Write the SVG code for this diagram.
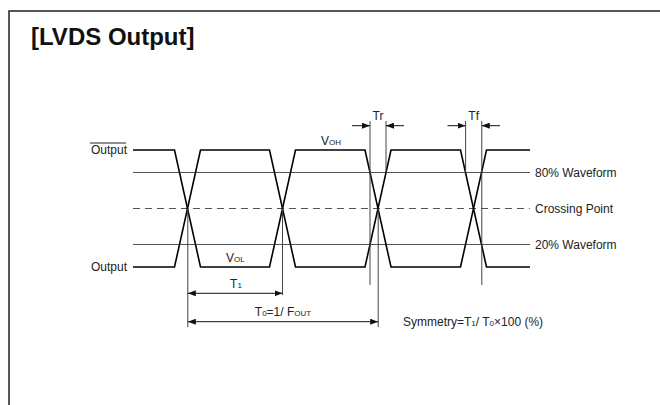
<svg xmlns="http://www.w3.org/2000/svg" width="660" height="405" viewBox="0 0 660 405">
<style>
text{font-family:"Liberation Sans",Arial,sans-serif;fill:#222;font-size:12px}
.t{font-size:24px;font-weight:bold;fill:#111}
.s{font-size:8px}
.wave{fill:none;stroke:#000;stroke-width:1.6;stroke-linejoin:miter}
.lvl{stroke:#555;stroke-width:1.2}
.dash{stroke:#555;stroke-width:1.2;stroke-dasharray:7 5}
.dim{stroke:#111;stroke-width:1;fill:none}
.ext{stroke:#444;stroke-width:1;fill:none}
</style>
<defs>
<marker id="ah" viewBox="0 0 8 6" refX="8" refY="3" markerWidth="8" markerHeight="6" markerUnits="userSpaceOnUse" orient="auto-start-reverse">
<path d="M0,0 L8,3 L0,6 Z" fill="#111"/>
</marker>
</defs>
<rect x="9" y="11" width="700" height="450" fill="none" stroke="#222" stroke-width="1.5"/>
<text class="t" x="31" y="45">[LVDS Output]</text>
<g id="levels">
<line class="lvl" x1="133" y1="172.5" x2="530" y2="172.5"/>
<line class="dash" x1="133" y1="208.5" x2="530" y2="208.5"/>
<line class="lvl" x1="133" y1="244.5" x2="530" y2="244.5"/>
</g>
<g id="output-bar">
<path class="wave" d="M133,150 L174.5,150 L200.5,267 L269.5,267 L295.5,150 L365,150 L391,267 L460.5,267 L486.5,150 L530,150"/>
<line x1="90" y1="143" x2="126" y2="143" stroke="#222" stroke-width="1"/>
<text x="127" y="154" text-anchor="end">Output</text>
</g>
<g id="output">
<path class="wave" d="M133,267 L174.5,267 L200.5,150 L269.5,150 L295.5,267 L365,267 L391,150 L460.5,150 L486.5,267 L530,267"/>
<text x="127" y="271" text-anchor="end">Output</text>
</g>
<g id="labels">
<text x="535" y="176.5">80% Waveform</text>
<text x="535" y="212.5">Crossing Point</text>
<text x="535" y="249">20% Waveform</text>
<text x="321" y="145">V<tspan class="s">OH</tspan></text>
<text x="226" y="262">V<tspan class="s">OL</tspan></text>
</g>
<g id="connectors">
<line class="ext" x1="370" y1="121" x2="370" y2="285"/>
<line class="ext" x1="386" y1="121" x2="386" y2="172.5"/>
<line class="ext" x1="465.6" y1="121" x2="465.6" y2="172.5"/>
<line class="ext" x1="481.8" y1="121" x2="481.8" y2="285"/>
<line class="ext" x1="187.8" y1="208.5" x2="187.8" y2="327"/>
<line class="ext" x1="282.5" y1="208.5" x2="282.5" y2="295"/>
<line class="ext" x1="378.2" y1="208.5" x2="378.2" y2="327"/>
<line class="dim" x1="352" y1="125.7" x2="370" y2="125.7" marker-end="url(#ah)"/>
<line class="dim" x1="404" y1="125.7" x2="386" y2="125.7" marker-end="url(#ah)"/>
<line class="dim" x1="447.5" y1="125.7" x2="465.6" y2="125.7" marker-end="url(#ah)"/>
<line class="dim" x1="500" y1="125.7" x2="481.8" y2="125.7" marker-end="url(#ah)"/>
<line class="dim" x1="187.8" y1="293.3" x2="282.5" y2="293.3" marker-start="url(#ah)" marker-end="url(#ah)"/>
<line class="dim" x1="187.8" y1="321.7" x2="378.2" y2="321.7" marker-start="url(#ah)" marker-end="url(#ah)"/>
</g>
<g id="dim-labels">
<text x="378" y="120" text-anchor="middle">Tr</text>
<text x="473.7" y="120" text-anchor="middle">Tf</text>
<text x="236" y="288" text-anchor="middle">T<tspan class="s">1</tspan></text>
<text x="283" y="316" text-anchor="middle">T<tspan class="s">0</tspan>=1/ F<tspan class="s">OUT</tspan></text>
<text x="403" y="326">Symmetry=T<tspan class="s">1</tspan>/ T<tspan class="s">0</tspan>×100 (%)</text>
</g>
</svg>
